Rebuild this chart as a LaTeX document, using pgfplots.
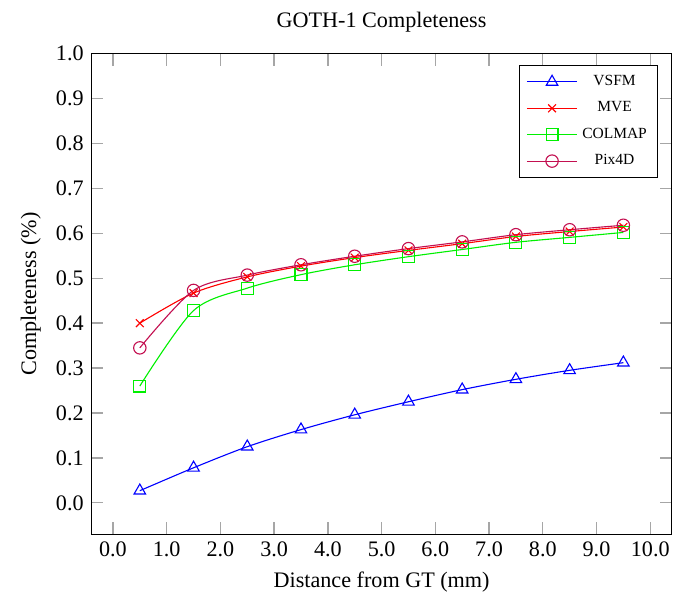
\documentclass[border=0pt]{standalone}
\usepackage{fontspec}
\setmainfont{Liberation Serif}
\usepackage{pgfplots}
\pgfplotsset{compat=1.18}
\definecolor{pixc}{RGB}{195,15,80}
\definecolor{colg}{RGB}{0,240,0}
\begin{document}
\begin{tikzpicture}
\begin{axis}[
  name=ax,
  scale only axis,
  width=262pt, height=217pt,
  xmin=-0.4, xmax=10.4,
  ymin=-0.07, ymax=1.0,
  xtick={0,1,...,10},
  ytick={0,0.1,...,1.0},
  /pgf/number format/assume math mode=true,
  xticklabel style={/pgf/number format/.cd,fixed,fixed zerofill,precision=1},
  yticklabel style={/pgf/number format/.cd,fixed,fixed zerofill,precision=1},
  major tick length=0.19cm,
  major tick style={gray!70, line width=0.6pt},
  title={GOTH-1 Completeness},
  xlabel={Distance from GT (mm)},
  ylabel={Completeness (\%)},
  legend style={at={(0.977,0.977)}, anchor=north east, font=\scriptsize, cells={anchor=center}, row sep=1.8pt, inner xsep=3pt, inner ysep=2.5pt},
  legend image code/.code={\draw[mark repeat=2,mark phase=2] plot coordinates {(0cm,0cm) (0.4cm,0cm) (0.8cm,0cm)};},
  every axis plot/.append style={smooth, line width=0.5pt},
]
\addplot[blue, mark=triangle, mark size=3pt] coordinates {
(0.5,0.027) (1.5,0.078) (2.5,0.125) (3.5,0.163) (4.5,0.196) (5.5,0.225) (6.5,0.252) (7.5,0.275) (8.5,0.295) (9.5,0.312)};
\addlegendentry{VSFM}
\addplot[red, mark=x, mark size=2.5pt] coordinates {
(0.5,0.400) (1.5,0.467) (2.5,0.503) (3.5,0.527) (4.5,0.546) (5.5,0.562) (6.5,0.577) (7.5,0.593) (8.5,0.604) (9.5,0.614)};
\addlegendentry{MVE}
\addplot[colg, mark=square, mark size=2.7pt, mark options={colg}] coordinates {
(0.5,0.260) (1.5,0.428) (2.5,0.478) (3.5,0.508) (4.5,0.530) (5.5,0.548) (6.5,0.564) (7.5,0.580) (8.5,0.591) (9.5,0.602)};
\addlegendentry{COLMAP}
\addplot[pixc, mark=o, mark size=2.8pt] coordinates {
(0.5,0.345) (1.5,0.473) (2.5,0.507) (3.5,0.530) (4.5,0.549) (5.5,0.566) (6.5,0.581) (7.5,0.597) (8.5,0.608) (9.5,0.618)};
\addlegendentry{Pix4D}
\end{axis}
\path ([xshift=-6pt,yshift=-2pt]current bounding box.south west) rectangle ([yshift=2.3pt]current bounding box.north east);
\path (ax.east) ++(6.8pt,0) coordinate (r);
\path (r) circle (0.1pt);
\end{tikzpicture}
\end{document}
